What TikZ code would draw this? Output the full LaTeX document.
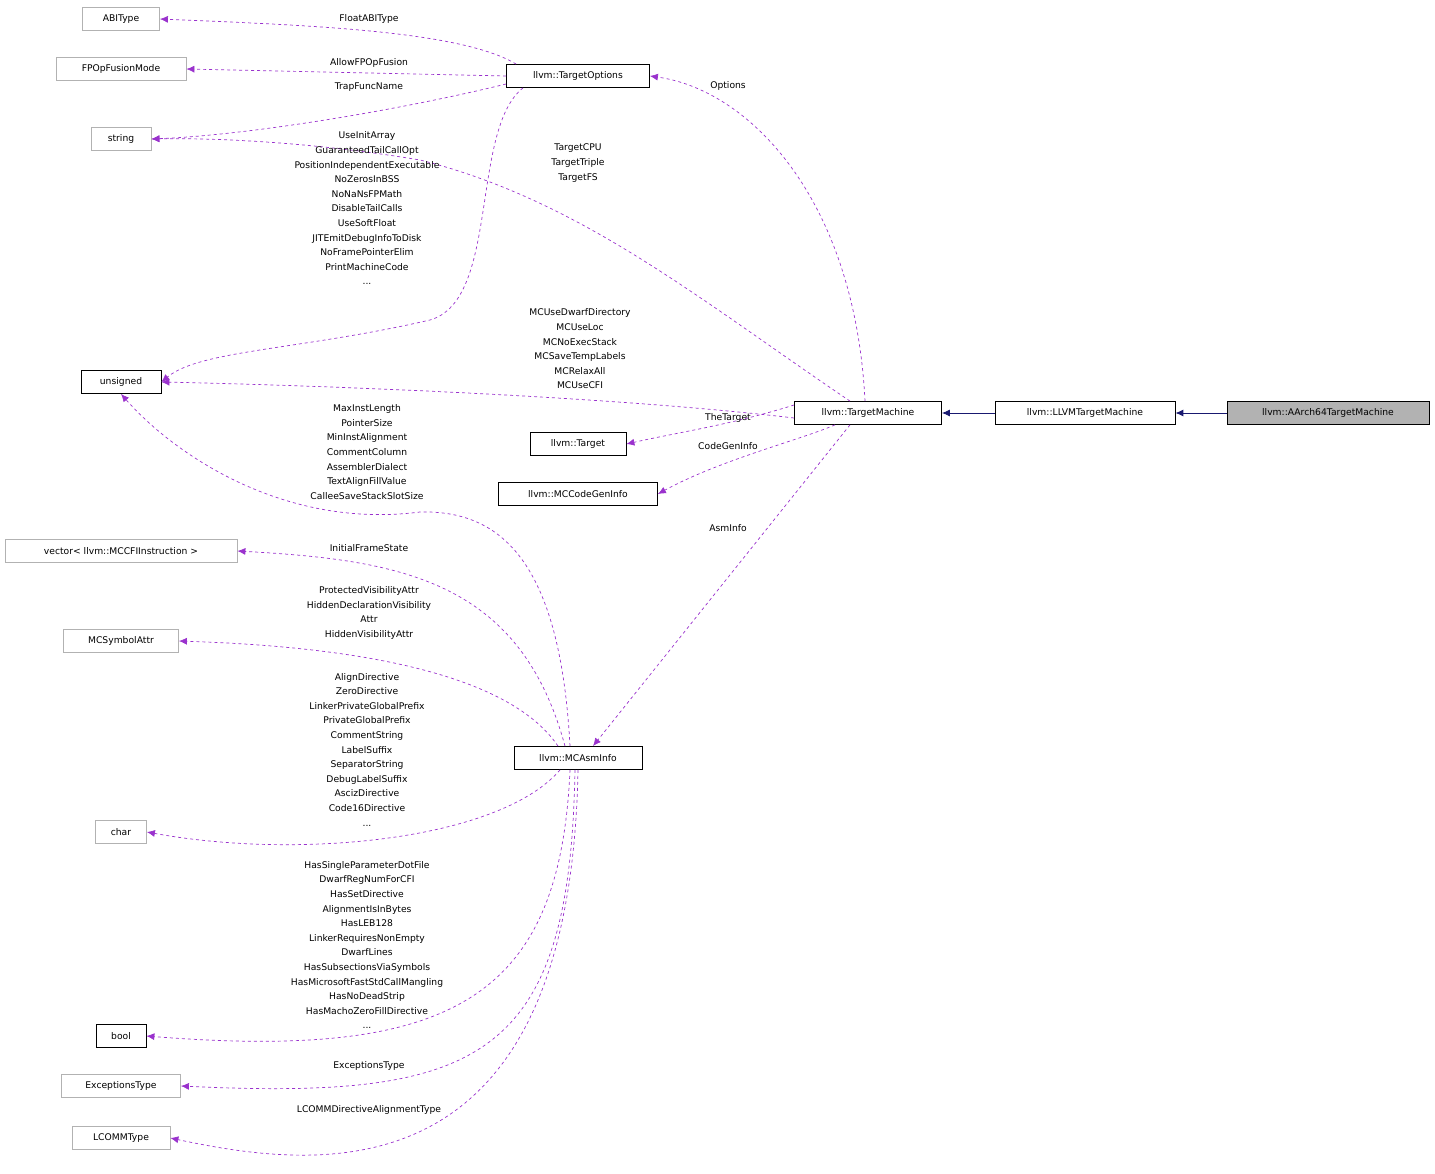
\documentclass[tikz,border=0pt]{standalone}
\usepackage{fontspec}
\setmainfont{DejaVu Sans}
\usetikzlibrary{arrows.meta}
\definecolor{dep}{HTML}{9A32CD}
\definecolor{inh}{HTML}{191970}
\begin{document}
\begin{tikzpicture}[x=1pt,y=-1pt,
  font=\fontsize{9.2}{14.6}\selectfont,
  cls/.style={draw=black,fill=white,inner sep=0pt,minimum height=23pt,line width=0.8pt},
  ext/.style={draw=black!30,fill=white,inner sep=0pt,minimum height=23pt,line width=0.8pt},
  lab/.style={align=center,inner sep=0pt,text=black},
  dep/.style={draw=dep,dashed,line width=0.7pt,-{Latex[length=8pt,width=7pt]}},
  inh/.style={draw=inh,line width=0.9pt,-{Latex[length=8pt,width=7pt]}}]
\useasboundingbox (0,0) rectangle (1435,1174);
% nodes
\node[ext,minimum width=77pt] (abi) at (121,19) {ABIType};
\node[ext,minimum width=130pt] (fpo) at (121,69) {FPOpFusionMode};
\node[ext,minimum width=60pt] (str) at (121,139) {string};
\node[cls,minimum width=80pt] (uns) at (121,382) {unsigned};
\node[ext,minimum width=232pt] (vec) at (121,551) {vector< llvm::MCCFIInstruction >};
\node[ext,minimum width=115pt] (sym) at (121,641) {MCSymbolAttr};
\node[ext,minimum width=51pt] (chr) at (121,832) {char};
\node[cls,minimum width=50pt] (bool) at (121,1036) {bool};
\node[ext,minimum width=119pt] (exc) at (121,1086) {ExceptionsType};
\node[ext,minimum width=98pt] (lcm) at (121,1138) {LCOMMType};
\node[cls,minimum width=143pt] (to) at (578,76) {llvm::TargetOptions};
\node[cls,minimum width=96pt] (tgt) at (578,444) {llvm::Target};
\node[cls,minimum width=159pt] (cgi) at (578,494) {llvm::MCCodeGenInfo};
\node[cls,minimum width=128pt] (mai) at (578,758) {llvm::MCAsmInfo};
\node[cls,minimum width=147pt] (tm) at (868,413) {llvm::TargetMachine};
\node[cls,minimum width=180pt] (ltm) at (1085,413) {llvm::LLVMTargetMachine};
\node[cls,fill=black!30,minimum width=202pt] (a64) at (1328,413) {llvm::AArch64TargetMachine};
% inheritance
\draw[inh] (a64) -- (ltm);
\draw[inh] (ltm) -- (tm);
% TargetOptions edges
\draw[dep] (to.north west) ++(10,0) .. controls (460,30) and (300,25) .. (abi.east);
\draw[dep] (to.west) -- (fpo.east);
\draw[dep] ([yshift=-8pt]to.west) .. controls (400,110) and (250,135) .. (str.east);
\draw[dep] ([xshift=-55pt]to.south) .. controls (470,130) and (500,300) .. (430,320) .. controls (300,350) and (200,350) .. (uns.east);
% TargetMachine edges
\draw[dep] ([xshift=-3pt]tm.north) .. controls (855,200) and (750,90) .. (to.east);
\draw[dep] ([xshift=-18pt]tm.north) .. controls (700,300) and (580,200) .. (420,160) .. controls (300,140) and (200,138) .. (str.east);
\draw[dep] ([yshift=-5pt]tm.west) .. controls (600,395) and (300,385) .. (uns.east);
\draw[dep] ([yshift=8pt]tm.west) .. controls (730,425) and (680,432) .. (tgt.east);
\draw[dep] ([xshift=-33pt]tm.south) .. controls (800,440) and (720,460) .. (cgi.east);
\draw[dep] ([xshift=-18pt]tm.south) -- ([xshift=15pt]mai.north);
% MCAsmInfo edges
\draw[dep] ([xshift=-8pt]mai.north) .. controls (560,560) and (500,510) .. (420,512) .. controls (280,530) and (170,450) .. (uns.south);
\draw[dep] ([xshift=-13pt]mai.north) .. controls (520,580) and (400,560) .. (vec.east);
\draw[dep] ([xshift=-20pt]mai.north) .. controls (500,660) and (300,645) .. (sym.east);
\draw[dep] ([xshift=-18pt]mai.south) .. controls (500,840) and (300,860) .. (chr.east);
\draw[dep] ([xshift=-8pt]mai.south) .. controls (560,1000) and (450,1060) .. (bool.east);
\draw[dep] ([xshift=-3pt]mai.south) .. controls (570,1060) and (480,1100) .. (exc.east);
\draw[dep] (mai.south) .. controls (570,1200) and (320,1170) .. (lcm.east);
% labels
\node[lab] (l1) at (369,19) {FloatABIType};
\node[lab] (l2) at (369,63) {AllowFPOpFusion};
\node[lab] (l3) at (369,87) {TrapFuncName};
\node[lab] (l4) at (367,208.5) {UseInitArray\\GuaranteedTailCallOpt\\PositionIndependentExecutable\\NoZerosInBSS\\NoNaNsFPMath\\DisableTailCalls\\UseSoftFloat\\JITEmitDebugInfoToDisk\\NoFramePointerElim\\PrintMachineCode\\...};
\node[lab] (l5) at (728,86) {Options};
\node[lab] (l6) at (578,163) {TargetCPU\\TargetTriple\\TargetFS};
\node[lab] (l7) at (580,349) {MCUseDwarfDirectory\\MCUseLoc\\MCNoExecStack\\MCSaveTempLabels\\MCRelaxAll\\MCUseCFI};
\node[lab] (l8) at (728,418) {TheTarget};
\node[lab] (l9) at (728,446) {CodeGenInfo};
\node[lab] (l10) at (728,528) {AsmInfo};
\node[lab] (l11) at (367,452) {MaxInstLength\\PointerSize\\MinInstAlignment\\CommentColumn\\AssemblerDialect\\TextAlignFillValue\\CalleeSaveStackSlotSize};
\node[lab] (l12) at (369,548) {InitialFrameState};
\node[lab] (l13) at (369,613) {ProtectedVisibilityAttr\\HiddenDeclarationVisibility\\Attr\\HiddenVisibilityAttr};
\node[lab] (l14) at (367,749.5) {AlignDirective\\ZeroDirective\\LinkerPrivateGlobalPrefix\\PrivateGlobalPrefix\\CommentString\\LabelSuffix\\SeparatorString\\DebugLabelSuffix\\AscizDirective\\Code16Directive\\...};
\node[lab] (l15) at (367,945) {HasSingleParameterDotFile\\DwarfRegNumForCFI\\HasSetDirective\\AlignmentIsInBytes\\HasLEB128\\LinkerRequiresNonEmpty\\DwarfLines\\HasSubsectionsViaSymbols\\HasMicrosoftFastStdCallMangling\\HasNoDeadStrip\\HasMachoZeroFillDirective\\...};
\node[lab] (l16) at (369,1066) {ExceptionsType};
\node[lab] (l17) at (369,1110) {LCOMMDirectiveAlignmentType};
\end{tikzpicture}
\end{document}
